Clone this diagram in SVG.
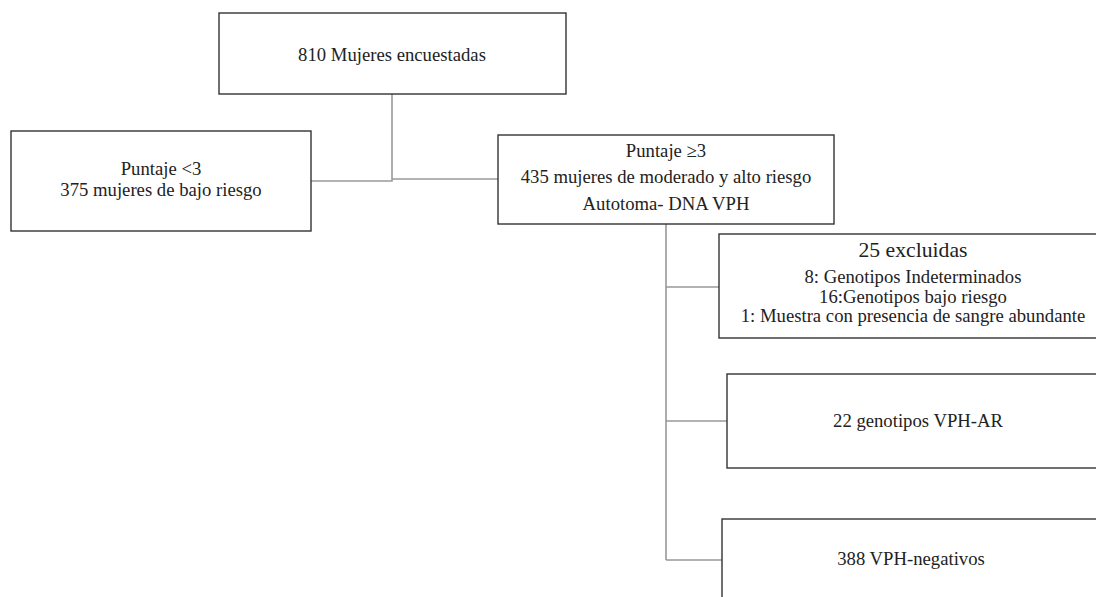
<svg xmlns="http://www.w3.org/2000/svg" width="1096" height="597" viewBox="0 0 1096 597">
<style>
.box{fill:#fff;stroke:#333;stroke-width:1.4}
.t{font-family:'Liberation Serif','DejaVu Serif',serif;font-size:18.7px;fill:#222;text-anchor:middle}
.big{font-size:21.7px}
.c{fill:none;stroke:#999;stroke-width:1.6}
</style>
<rect width="1096" height="597" fill="#fff"/>
<g id="connectors">
<path class="c" d="M392 94V181M311 181H392V179H498"/>
<path class="c" d="M666 224V560M666 287H719M666 421H727M666 560H722"/>
</g>
<g font-family="Liberation Serif, DejaVu Serif, serif">
<g id="n1"><rect class="box" x="219" y="13" width="347" height="81"/><text class="t" x="392" y="61">810 Mujeres encuestadas</text></g>
<g id="n2"><rect class="box" x="11" y="131" width="300" height="100"/><text class="t" x="161" y="175">Puntaje &lt;3</text><text class="t" x="161" y="196">375 mujeres de bajo riesgo</text></g>
<g id="n3"><rect class="box" x="498" y="135" width="336" height="89"/><text class="t" x="666" y="157">Puntaje ≥3</text><text class="t" x="666" y="183">435 mujeres de moderado y alto riesgo</text><text class="t" x="666" y="210">Autotoma- DNA VPH</text></g>
<g id="n4"><rect class="box" x="719" y="234" width="400" height="104"/><text class="t big" x="913" y="257">25 excluidas</text><text class="t" x="913" y="283">8: Genotipos Indeterminados</text><text class="t" x="913" y="303">16:Genotipos bajo riesgo</text><text class="t" x="913" y="322">1: Muestra con presencia de sangre abundante</text></g>
<g id="n5"><rect class="box" x="727" y="374" width="400" height="94"/><text class="t" x="918" y="427">22 genotipos VPH-AR</text></g>
<g id="n6"><rect class="box" x="722" y="519" width="400" height="110"/><text class="t" x="911" y="565">388 VPH-negativos</text></g>
</g>
</svg>
